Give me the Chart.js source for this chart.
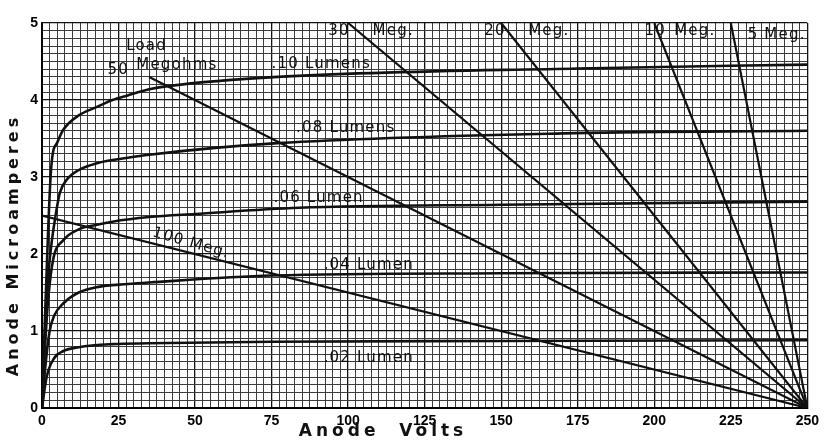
<!DOCTYPE html>
<html>
<head>
<meta charset="utf-8">
<script src="https://cdn.jsdelivr.net/npm/chart.js@4/dist/chart.umd.min.js"></script>
<style>
  html, body { margin: 0; background: #fff; }
  #wrap { width: 824px; height: 442px; }
</style>
</head>
<body>
<div id="wrap"><canvas id="c"></canvas></div>
<script>
'use strict';
/* Anode volts vs anode microamperes — phototube curves with load lines */

// ── Curvas de luz (volts / microamperes) ───────────────
const v02 = [0, 1.5, 4, 7, 12, 23, 35, 75, 150, 250];
const i02 = [0, 0.40, 0.65, 0.74, 0.79, 0.83, 0.84, 0.86, 0.87, 0.88];

const v04 = [0, 1, 2.5, 4, 7, 12, 18, 28, 35, 75, 150, 250];
const i04 = [0, 0.5, 1.0, 1.2, 1.36, 1.5, 1.57, 1.61, 1.63, 1.72, 1.75, 1.76];

const v06 = [0, 1, 2, 3.6, 7, 12, 18, 23, 35, 50, 84, 150, 250];
const i06 = [0, 0.8, 1.4, 1.92, 2.18, 2.32, 2.38, 2.42, 2.48, 2.52, 2.6, 2.64, 2.68];

const v08 = [0, 1, 2, 3, 4.2, 5.8, 8, 12, 18, 28, 35, 77, 174, 250];
const i08 = [0, 1.0, 1.7, 2.1, 2.44, 2.79, 2.96, 3.09, 3.18, 3.25, 3.29, 3.44, 3.57, 3.6];

const v10 = [0, 1, 2, 2.8, 3.5, 4.9, 6.9, 12, 18, 23, 28, 35, 41, 77, 175, 250];
const i10 = [0, 1.2, 2.3, 3.0, 3.3, 3.44, 3.61, 3.8, 3.91, 4.0, 4.06, 4.14, 4.18, 4.3, 4.41, 4.46];

// ── Rectas de carga (megohms) ───────────────────────────
const loadMeg    = [50, 30, 20, 10, 5, 100];
const loadStartV = [35, 100, 150, 200, 225, 0];
const loadStartI = [4.3, 5, 5, 5, 5, 2.5];
const supplyV    = 250;

// ── Ejes ────────────────────────────────────────────────
const xLabels = [0, 25, 50, 75, 100, 125, 150, 175, 200, 225, 250];
const yLabels = [0, 1, 2, 3, 4, 5];

// ── Rótulos sobre el gráfico ────────────────────────────
const notes = [
  { t: 'Load',       v: 27.5, i: 4.70 },
  { t: 'Megohms',    v: 30.8, i: 4.45 },
  { t: '50',         v: 21.4, i: 4.39 },
  { t: '.10 Lumens', v: 75,   i: 4.47 },
  { t: '30',         v: 93.5, i: 4.90 },
  { t: 'Meg.',       v: 108,  i: 4.89 },
  { t: '20',         v: 144.5, i: 4.89 },
  { t: 'Meg.',       v: 158.8, i: 4.89 },
  { t: '10',         v: 196.8, i: 4.89 },
  { t: 'Meg.',       v: 206.5, i: 4.89 },
  { t: '5 Meg.',     v: 230.5, i: 4.84 },
  { t: '.08 Lumens', v: 83,   i: 3.64 },
  { t: '.06 Lumen',  v: 75.6, i: 2.73 },
  { t: '.04 Lumen',  v: 92,   i: 1.86 },
  { t: '.02 Lumen',  v: 92,   i: 0.65 },
  { t: '100 Meg.',   v: 48.7, i: 2.14, rot: 16 },
];

const pts = (vs, is) => vs.map((x, k) => ({ x, y: is[k] }));
const curve = data => ({
  data, borderColor: '#111', borderWidth: 2.6, pointRadius: 0,
  cubicInterpolationMode: 'monotone', fill: false,
});

const datasets = [
  curve(pts(v02, i02)), curve(pts(v04, i04)), curve(pts(v06, i06)),
  curve(pts(v08, i08)), curve(pts(v10, i10)),
  ...loadMeg.map((m, k) => ({
    data: [{ x: loadStartV[k], y: loadStartI[k] }, { x: supplyV, y: 0 }],
    borderColor: '#111', borderWidth: 2.2, pointRadius: 0, tension: 0,
  })),
];

const near = (a, b) => Math.abs(a - b) < 1e-6;

const rotulos = {
  id: 'rotulos',
  afterDatasetsDraw(chart) {
    const { ctx, scales: { x, y } } = chart;
    ctx.save();
    ctx.fillStyle = '#111';
    ctx.font = '15px "DejaVu Sans"';
    ctx.letterSpacing = '1.2px';
    ctx.textBaseline = 'middle';
    ctx.textAlign = 'left';
    notes.forEach(n => {
      const px = x.getPixelForValue(n.v), py = y.getPixelForValue(n.i);
      if (n.rot) {
        ctx.save();
        ctx.translate(px, py);
        ctx.rotate(n.rot * Math.PI / 180);
        ctx.textAlign = 'center';
        ctx.fillText(n.t, 0, 0);
        ctx.restore();
      } else {
        ctx.fillText(n.t, px, py);
      }
    });
    // títulos de los ejes
    ctx.font = 'bold 16px "DejaVu Sans"';
    ctx.letterSpacing = '4px';
    ctx.textAlign = 'center';
    ctx.save();
    ctx.translate(14, 245);
    ctx.rotate(-Math.PI / 2);
    ctx.fillText('Anode Microamperes', 0, 0);
    ctx.restore();
    ctx.font = 'bold 17px "DejaVu Sans"';
    ctx.letterSpacing = '4px';
    ctx.fillText('Anode  Volts', 383, 432);
    ctx.restore();
  },
};

const gridColor = labels => c => labels.some(l => near(l, c.tick.value)) ? '#111' : '#3c3c3c';
const gridWidth = labels => c => labels.some(l => near(l, c.tick.value)) ? 1.3 : 1;

new Chart(document.getElementById('c'), {
  type: 'line',
  data: { datasets },
  options: {
    responsive: true, maintainAspectRatio: false, animation: false,
    layout: { padding: { left: 0, top: 23, right: 12, bottom: 0 }, autoPadding: false },
    plugins: { legend: { display: false }, tooltip: { enabled: false } },
    scales: {
      x: {
        type: 'linear', min: 0, max: 250,
        afterFit: s => { s.height = 34; },
        border: { display: true, color: '#000', width: 2 },
        grid: { drawTicks: false, color: gridColor(xLabels), lineWidth: gridWidth(xLabels) },
        ticks: {
          stepSize: 2.5, autoSkip: false, maxRotation: 0, padding: 5,
          color: '#000', font: { family: 'Liberation Sans', weight: 'bold', size: 14 },
          callback: val => xLabels.find(l => near(l, val)) ?? '',
        },
      },
      y: {
        type: 'linear', min: 0, max: 5,
        afterFit: s => { s.width = 42; },
        border: { display: true, color: '#000', width: 2 },
        grid: { drawTicks: false, color: gridColor(yLabels), lineWidth: gridWidth(yLabels) },
        ticks: {
          stepSize: 0.1, autoSkip: false, padding: 4,
          color: '#000', font: { family: 'Liberation Sans', weight: 'bold', size: 14 },
          callback: val => { const l = yLabels.find(q => near(q, val)); return l === undefined ? '' : String(l); },
        },
      },
    },
  },
  plugins: [rotulos],
});
</script>
</body>
</html>
